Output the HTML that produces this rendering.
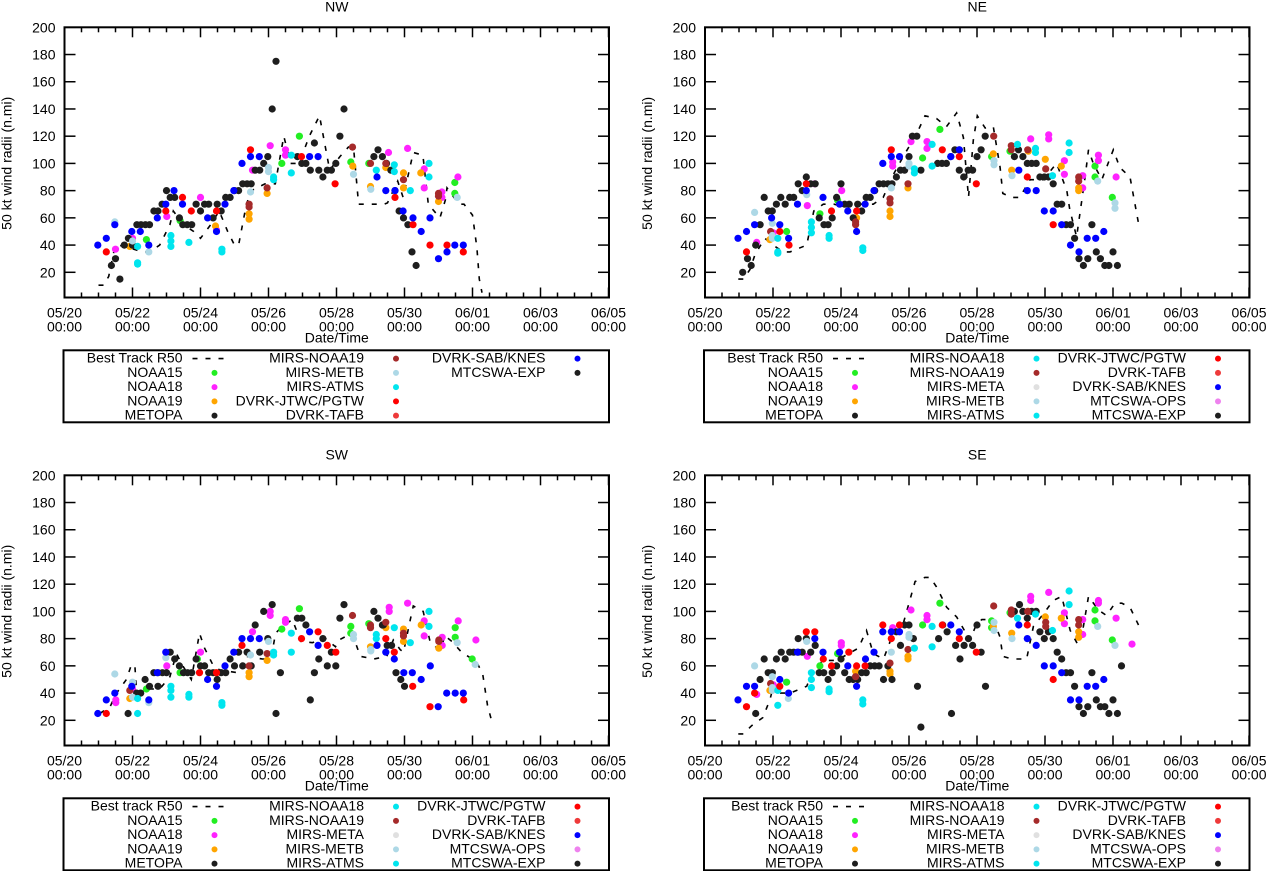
<!DOCTYPE html>
<html><head><meta charset="utf-8"><style>
html,body{margin:0;padding:0;background:#fff;}
svg{display:block;font-family:"Liberation Sans",sans-serif;}
</style></head><body>
<svg id="chart" width="1267" height="871" viewBox="0 0 1267 871" xmlns="http://www.w3.org/2000/svg"></svg>
<script>
const dateLabels = ["05/20","05/22","05/24","05/26","05/28","05/30","06/01","06/03","06/05"];
const yTicks = [20,40,60,80,100,120,140,160,180,200];

// ---------- NW ----------
const nw_best = [[1.0,10.5],[1.15,10.5],[1.3,17],[1.45,35],[1.5,40],[1.6,40],[1.9,38],[2.3,35],[2.5,35],[2.8,40],[3.1,55],[3.2,65],[3.5,55],[3.8,50],[4.0,45],[4.3,55],[4.55,65],[4.8,50],[5.0,40],[5.12,40],[5.35,70],[5.5,80],[5.9,85],[6.2,85],[6.45,120],[6.65,100],[6.9,100],[7.2,120],[7.5,135],[7.8,95],[8.1,105],[8.35,112],[8.5,112],[8.65,70],[9.1,70],[9.4,70],[9.5,71],[9.8,87],[9.96,75],[10.16,97],[10.26,108],[10.54,106],[10.7,70],[11.04,60],[11.2,73],[11.25,82],[11.6,70],[11.75,70],[12.0,62],[12.13,38],[12.2,15],[12.28,5]];
const nw_noaa15 = [[2.41,44],[3.4,58],[6.39,100],[6.91,120],[8.42,101],[8.95,100],[11.48,86],[11.48,78]];
const nw_noaa18 = [[1.5,37],[2,45],[3.01,61],[4.0,75],[4.47,51],[5.53,95],[6.05,113],[6.5,110],[6.5,106],[9.53,108],[10.09,111],[10.58,96],[10.58,82],[11.1,79],[11.1,75],[11.57,90]];
const nw_noaa19 = [[1.92,39],[4.44,54],[5.43,63],[5.43,59],[5.96,78],[8.48,98],[9,83],[9.45,97],[9.97,93],[9.97,82],[10.48,93],[11.0,72]];
const nw_mirsNoaa19 = [[5.43,70],[5.43,68],[5.96,82],[8.47,112],[9,100],[9.45,100],[9.97,88],[11,78],[11,76]];
const nw_mirsMetb = [[1.48,57],[2,43],[2.48,35],[5.47,79],[6,97],[6,94],[8.5,92],[9.01,81],[11.55,75]];
const nw_mirsAtms = [[2.15,39],[2.15,27],[2.15,26],[3.13,47],[3.13,43],[3.13,39],[3.66,42],[4.63,37],[4.63,35],[6.15,90],[6.15,88],[6.67,93],[6.67,106],[9.17,95],[9.7,99],[9.7,94],[10.17,80],[10.72,100],[10.72,90]];
const nw_black = [[1.38,25],[1.5,30],[1.63,15],[1.76,40],[1.88,45],[2,40],[2.13,55],[2.25,55],[2.38,55],[2.5,55],[2.63,65],[2.75,65],[2.87,70],[3.0,80],[3.11,75],[3.24,75],[3.38,60],[3.48,55],[3.61,55],[3.74,55],[3.87,70],[4.0,65],[4.12,70],[4.24,70],[4.37,60],[4.49,70],[4.61,65],[4.74,75],[4.87,75],[5.0,80],[5.12,80],[5.24,85],[5.37,85],[5.49,85],[5.61,95],[5.74,95],[5.86,100],[5.98,105],[6.11,140],[6.22,175],[6.85,105],[6.98,100],[7.1,100],[7.23,95],[7.35,115],[7.48,95],[7.6,90],[7.73,95],[7.85,95],[7.98,100],[8.1,120],[8.22,140],[9.1,105],[9.22,110],[9.35,105],[9.47,100],[9.6,95],[9.72,80],[9.84,65],[9.97,60],[10.1,55],[10.22,35],[10.34,25]];
const nw_jtwc = [[1.23,35],[2.98,65],[3.47,75],[3.73,65],[4.47,65],[5.47,110],[6.97,105],[7.96,85],[9.72,75],[10.25,55],[10.75,40],[11.25,40],[11.73,35]];
const nw_sab = [[0.98,40],[1.23,45],[1.48,55],[1.98,50],[2.23,50],[2.48,40],[2.73,60],[2.98,70],[3.22,80],[3.47,70],[4.21,60],[4.47,50],[4.72,70],[4.98,80],[5.22,100],[5.47,105],[5.73,105],[7.21,105],[7.46,105],[9.19,90],[9.45,80],[9.72,80],[9.96,65],[10.25,60],[10.49,50],[10.75,60],[11,30],[11.25,35],[11.48,40],[11.73,40]];

// ---------- NE ----------
const ne_best = [[0.98,15],[1.13,15],[1.32,22],[1.47,33],[1.76,45],[2.06,39],[2.3,35],[2.5,35],[2.99,40],[3.2,65],[3.48,70],[3.8,70],[4.1,68],[4.5,70],[4.95,70],[5.24,75],[5.5,90],[5.83,105],[6.23,122],[6.47,135],[6.81,133],[7.1,127],[7.4,137],[7.6,119],[7.75,75],[7.89,117],[8.01,135],[8.24,126],[8.48,127],[8.68,97],[8.76,78],[9.02,75],[9.26,75],[9.56,88],[9.95,88],[10.34,100],[10.64,80],[10.73,66],[10.93,46],[11.18,90],[11.28,110],[11.42,100],[11.67,88],[12.01,110],[12.2,97],[12.5,90],[12.75,56]];
const ne_noaa15 = [[2.4,50],[3.38,63],[3.9,73],[6.4,104],[6.91,125],[8.43,105],[8.97,109],[11.47,98],[11.47,90],[11.98,75]];
const ne_noaa18 = [[1.52,42],[2.01,49],[3.01,69],[3.23,85],[4.02,80],[5.52,101],[5.52,98],[6.06,116],[6.53,116],[6.53,111],[9.58,118],[10.11,121],[10.11,118],[10.57,102],[10.57,92],[11.11,91],[11.11,82],[11.57,106],[11.57,102],[12.09,90]];
const ne_noaa19 = [[1.91,44],[4.46,60],[5.44,65],[5.44,61],[5.97,82],[8.48,107],[9.02,95],[9.51,109],[10.01,103],[10.48,98],[10.99,82],[10.99,80]];
const ne_mirsNoaa19 = [[1.93,50],[4.43,57],[4.43,55],[5.44,74],[5.44,71],[5.97,85],[8.49,120],[9.01,113],[9.01,110],[9.49,110],[10.02,96],[10.99,90],[10.99,87]];
const ne_mirsMetb = [[1.46,64],[1.98,56],[1.98,47],[1.98,45],[2.99,77],[5.48,82],[6,100],[6,98],[8.5,102],[8.5,99],[9.03,91],[11.55,87],[12.06,71],[12.06,67]];
const ne_mirsAtms = [[2.14,45],[2.14,35],[2.14,34],[3.13,57],[3.13,53],[3.13,49],[3.65,47],[3.65,45],[4.64,38],[4.64,36],[6.16,96],[6.16,93],[6.68,114],[6.68,98],[9.19,114],[9.72,111],[9.72,108],[10.71,115],[10.71,108],[10.22,91]];
const ne_black = [[1.11,20],[1.25,30],[1.36,25],[1.49,40],[1.62,55],[1.74,75],[1.86,65],[1.98,65],[2.1,70],[2.23,75],[2.36,70],[2.49,75],[2.61,75],[2.74,85],[2.86,80],[2.98,90],[3.11,85],[3.24,85],[3.36,60],[3.5,55],[3.62,55],[3.74,60],[3.87,75],[4.0,85],[4.11,70],[4.24,70],[4.36,60],[4.49,70],[4.61,65],[4.74,75],[4.86,75],[4.99,80],[5.12,85],[5.25,85],[5.38,85],[5.5,85],[5.63,90],[5.75,95],[5.87,95],[6.0,105],[6.1,120],[6.23,120],[6.35,95],[6.84,100],[6.97,100],[7.1,100],[7.23,105],[7.35,110],[7.48,110],[7.48,95],[7.61,90],[7.74,95],[7.87,95],[8.0,105],[8.12,110],[8.24,120],[9.1,105],[9.22,110],[9.35,105],[9.48,100],[9.61,100],[9.74,100],[9.85,90],[9.98,90],[10.1,90],[10.24,85],[10.36,70],[10.49,70],[10.62,55],[10.75,55],[10.87,45],[11.0,30],[11.13,25],[11.26,30],[11.38,55],[11.51,35],[11.63,30],[11.76,25],[11.88,25],[12.0,35],[12.13,25]];
const ne_jtwc = [[1.22,35],[2.2,50],[2.47,40],[2.98,85],[3.72,65],[4.46,65],[5.48,110],[6.98,110],[7.48,105],[7.98,85],[9.48,90],[10.24,55]];
const ne_sab = [[0.97,45],[1.22,50],[1.46,55],[1.96,60],[2.2,55],[2.46,45],[2.72,70],[2.98,80],[3.47,75],[3.96,70],[4.2,65],[4.46,50],[4.71,70],[4.97,80],[5.23,100],[5.48,105],[5.72,105],[7.23,105],[7.48,110],[9.23,95],[9.48,80],[9.74,80],[9.98,65],[10.24,65],[10.49,55],[10.75,40],[11,35],[11.24,45],[11.49,45],[11.73,50]];

// ---------- SW ----------
const sw_best = [[1.04,25],[1.34,30],[1.53,40],[1.82,50],[1.97,61],[2.07,60],[2.12,40],[2.41,43],[2.8,43],[3.1,52],[3.29,69],[3.48,60],[3.73,50],[3.97,84],[4.12,73],[4.36,61],[4.56,57],[5.09,55],[5.34,67],[5.82,65],[6.07,65],[6.21,84],[6.41,89],[6.7,94],[6.95,78],[7.29,77],[7.68,80],[7.97,74],[8.07,79],[8.46,84],[8.7,67],[9.1,65],[9.48,67],[9.67,79],[9.87,72],[9.97,70],[10.17,94],[10.26,104],[10.55,100],[10.75,78],[11.04,71],[11.19,82],[11.39,78],[11.68,70],[12.12,63],[12.3,54],[12.44,31],[12.56,20],[12.63,20]];
const sw_noaa15 = [[2.41,43],[3.4,55],[3.91,65],[6.39,87],[6.91,102],[8.42,89],[8.42,84],[8.95,91],[11.49,88],[11.49,81],[11.99,65]];
const sw_noaa18 = [[1.51,35],[1.51,33],[2,43],[3.01,60],[4.0,70],[5.53,85],[6.05,100],[6.05,97],[6.5,94],[6.5,92],[9.55,103],[9.55,100],[10.09,106],[10.58,93],[10.58,82],[11.11,81],[11.11,75],[11.58,93],[12.1,79]];
const sw_noaa19 = [[1.92,36],[4.44,55],[5.43,55],[5.43,52],[5.96,64],[9,74],[9.45,88],[9.97,87],[9.97,78],[10.49,90],[11.01,73]];
const sw_mirsNoaa19 = [[1.92,42],[5.43,60],[5.96,69],[8.47,97],[9,90],[9,88],[9.45,92],[9.97,84],[9.97,82],[11.01,79],[11.01,78]];
const sw_mirsMetb = [[1.48,54],[2,48],[2,37],[2.48,33],[2.98,66],[5.47,68],[6,78],[8.5,83],[8.5,80],[9.01,72],[9.01,71],[11.55,77],[12.08,61]];
const sw_mirsAtms = [[2.15,36],[2.15,25],[3.13,45],[3.13,42],[3.13,37],[3.66,39],[3.66,37],[4.63,33],[4.63,31],[6.15,70],[6.15,68],[6.67,84],[6.67,70],[9.17,83],[9.17,80],[9.7,88],[10.17,77],[10.72,100],[10.72,89]];
const sw_black = [[1.87,25],[2.12,40],[2.24,40],[2.37,50],[2.5,45],[2.63,55],[2.75,55],[2.75,45],[2.88,55],[3.0,55],[3.11,70],[3.24,65],[3.38,60],[3.5,55],[3.62,55],[3.74,55],[3.87,65],[4.0,60],[4.12,60],[4.24,55],[4.37,55],[4.49,50],[4.61,55],[4.74,55],[4.87,65],[5.0,60],[5.12,70],[5.24,60],[5.37,70],[5.49,60],[5.61,90],[5.74,70],[5.86,100],[5.98,80],[6.11,105],[6.22,25],[6.35,55],[6.85,95],[6.98,95],[7.1,90],[7.23,35],[7.35,55],[7.48,65],[7.6,80],[7.73,60],[7.85,70],[7.98,60],[8.1,95],[8.22,105],[9.1,100],[9.22,95],[9.35,90],[9.38,90],[9.49,75],[9.62,75],[9.75,55],[9.89,50],[10.0,45]];
const sw_jtwc = [[1.23,25],[3.97,55],[4.47,55],[5.22,75],[6.97,80],[7.46,85],[7.73,75],[7.98,70],[9.45,80],[9.7,70],[10.24,45],[10.75,30],[11.74,35]];
const sw_sab = [[0.98,25],[1.23,35],[1.48,40],[1.98,45],[2.48,35],[2.73,55],[2.98,70],[4.21,50],[4.47,45],[4.72,60],[4.98,70],[5.22,80],[5.47,80],[5.73,80],[7.21,85],[7.46,75],[9.19,75],[9.45,70],[9.7,65],[9.98,55],[10.23,55],[10.49,50],[10.76,60],[10.99,30],[11.24,40],[11.49,40],[11.73,40]];

// ---------- SE ----------
const se_best = [[0.98,10],[1.13,10],[1.37,16],[1.7,22],[1.91,35],[1.96,40],[2.5,40],[2.99,45],[3.19,57],[3.48,64],[3.87,64],[4.51,73],[4.75,86],[4.95,69],[5.25,65],[5.49,81],[5.83,91],[6.18,122],[6.47,125],[6.62,125],[6.81,118],[7.11,103],[7.4,96],[7.79,79],[7.99,91],[8.14,94],[8.48,94],[8.68,81],[8.76,67],[9.02,65],[9.46,65],[9.66,89],[9.95,98],[10.24,108],[10.49,111],[10.74,86],[10.98,75],[11.13,89],[11.28,111],[11.57,101],[11.81,97],[12.06,106],[12.26,106],[12.5,103],[12.75,90]];
const se_noaa15 = [[2.4,48],[3.38,60],[3.9,69],[6.4,90],[6.91,106],[8.43,93],[8.43,88],[8.97,99],[11.47,101],[11.47,93],[11.98,79]];
const se_noaa18 = [[1.52,39],[2.01,46],[3.01,67],[4.01,77],[4.01,75],[5.52,88],[6.06,101],[6.53,97],[6.53,94],[9.58,111],[9.58,108],[10.11,114],[10.57,99],[10.57,91],[11.11,94],[11.11,83],[11.57,108],[11.57,106],[12.09,95],[12.56,76]];
const se_noaa19 = [[1.91,42],[4.43,56],[5.44,56],[5.44,54],[5.97,67],[5.97,65],[8.48,89],[9.02,84],[9.51,100],[10.01,96],[10.48,95],[10.99,85],[10.99,81]];
const se_mirsNoaa19 = [[1.93,47],[4.43,52],[5.44,62],[5.97,72],[8.49,104],[9.01,101],[9.01,98],[9.49,100],[10.02,92],[10.02,89],[10.99,94],[10.99,90]];
const se_mirsMetb = [[1.46,60],[1.98,52],[1.98,44],[1.98,42],[2.45,36],[2.99,78],[5.48,70],[6,83],[6,81],[8.5,92],[8.5,86],[9.03,80],[11.55,89],[12.06,75]];
const se_mirsAtms = [[2.14,42],[2.14,31],[3.13,55],[3.13,50],[3.13,44],[3.65,43],[3.65,41],[4.64,35],[4.64,32],[6.16,73],[6.68,89],[6.68,74],[9.19,95],[9.72,98],[10.71,115],[10.71,105],[10.22,86]];
const se_black = [[1.49,25],[1.62,50],[1.74,65],[1.86,55],[1.98,55],[2.1,65],[2.24,70],[2.36,65],[2.49,70],[2.61,70],[2.74,70],[2.86,70],[2.74,80],[2.98,80],[3.11,70],[3.24,75],[3.36,55],[3.49,55],[3.62,50],[3.74,55],[3.87,60],[4.0,65],[4.11,55],[4.24,50],[4.36,50],[4.49,50],[4.61,55],[4.74,55],[4.86,60],[4.99,60],[5.12,60],[5.25,50],[5.38,60],[5.5,50],[5.63,85],[5.75,75],[5.87,90],[6.0,90],[6.13,80],[6.25,45],[6.35,15],[6.87,80],[6.99,90],[7.12,85],[7.25,25],[7.37,75],[7.5,65],[7.62,75],[7.75,80],[7.87,75],[8.0,90],[8.12,70],[8.25,45],[9.1,100],[9.25,105],[9.35,100],[9.48,95],[9.61,100],[9.74,100],[9.85,85],[9.98,80],[10.1,85],[10.24,80],[10.36,70],[10.49,65],[10.62,55],[10.75,55],[10.87,45],[11.0,30],[11.13,25],[11.26,30],[11.38,55],[11.51,35],[11.63,30],[11.76,30],[11.88,25],[12.0,35],[12.13,25],[12.25,60]];
const se_jtwc = [[1.22,30],[1.46,40],[2.2,45],[2.98,85],[3.23,85],[3.48,65],[3.72,60],[4.23,70],[4.46,60],[4.71,60],[5.23,90],[5.48,80],[5.72,90],[6.98,90],[7.48,80],[7.98,70],[9.48,90],[10.24,50]];
const se_sab = [[0.97,35],[1.22,45],[1.46,45],[2.2,50],[2.46,40],[2.72,70],[3.23,80],[3.47,70],[3.96,70],[4.2,60],[4.46,45],[4.72,65],[4.97,70],[5.23,85],[5.48,85],[5.72,85],[7.23,90],[7.48,85],[9.23,90],[9.48,80],[9.74,75],[9.98,60],[10.24,60],[10.49,55],[10.75,35],[11,35],[11.24,45],[11.49,45],[11.73,50]];

const C = {green:"#22ee22",magenta:"#ff22ff",orange:"#ffa500",black:"#1e1e1e",brown:"#a52a2a",lightblue:"#add8e6",cyan:"#00e5ee",red:"#ff0000",tafb:"#ee3a3a",blue:"#0000ff",meta:"#e0e0e0",ops:"#ee82ee"};

const legendNW = [["Best Track R50","dash"],["NOAA15",C.green],["NOAA18",C.magenta],["NOAA19",C.orange],["METOPA",C.black],["MIRS-NOAA19",C.brown],["MIRS-METB",C.lightblue],["MIRS-ATMS",C.cyan],["DVRK-JTWC/PGTW",C.red],["DVRK-TAFB",C.tafb],["DVRK-SAB/KNES",C.blue],["MTCSWA-EXP",C.black]];
function legendFull(bt){return [[bt,"dash"],["NOAA15",C.green],["NOAA18",C.magenta],["NOAA19",C.orange],["METOPA",C.black],["MIRS-NOAA18",C.cyan],["MIRS-NOAA19",C.brown],["MIRS-META",C.meta],["MIRS-METB",C.lightblue],["MIRS-ATMS",C.cyan],["DVRK-JTWC/PGTW",C.red],["DVRK-TAFB",C.tafb],["DVRK-SAB/KNES",C.blue],["MTCSWA-OPS",C.ops],["MTCSWA-EXP",C.black]];}

const panels = [
 {key:"nw",title:"NW",L:64.5,T:27.3,best:nw_best,series:[["noaa15",nw_noaa15,C.green],["noaa18",nw_noaa18,C.magenta],["noaa19",nw_noaa19,C.orange],["metopa-exp",nw_black,C.black],["mirs-noaa19",nw_mirsNoaa19,C.brown],["mirs-metb",nw_mirsMetb,C.lightblue],["mirs-atms",nw_mirsAtms,C.cyan],["dvrk-jtwc",nw_jtwc,C.red],["dvrk-sab",nw_sab,C.blue]],legend:legendNW},
 {key:"ne",title:"NE",L:705,T:27.3,best:ne_best,series:[["noaa15",ne_noaa15,C.green],["noaa18",ne_noaa18,C.magenta],["noaa19",ne_noaa19,C.orange],["metopa-exp",ne_black,C.black],["mirs-noaa19",ne_mirsNoaa19,C.brown],["mirs-metb",ne_mirsMetb,C.lightblue],["mirs-atms",ne_mirsAtms,C.cyan],["dvrk-jtwc",ne_jtwc,C.red],["dvrk-sab",ne_sab,C.blue]],legend:legendFull("Best Track R50")},
 {key:"sw",title:"SW",L:64.5,T:475.3,best:sw_best,series:[["noaa15",sw_noaa15,C.green],["noaa18",sw_noaa18,C.magenta],["noaa19",sw_noaa19,C.orange],["metopa-exp",sw_black,C.black],["mirs-noaa19",sw_mirsNoaa19,C.brown],["mirs-metb",sw_mirsMetb,C.lightblue],["mirs-atms",sw_mirsAtms,C.cyan],["dvrk-jtwc",sw_jtwc,C.red],["dvrk-sab",sw_sab,C.blue]],legend:legendFull("Best track R50")},
 {key:"se",title:"SE",L:705,T:475.3,best:se_best,series:[["noaa15",se_noaa15,C.green],["noaa18",se_noaa18,C.magenta],["noaa19",se_noaa19,C.orange],["metopa-exp",se_black,C.black],["mirs-noaa19",se_mirsNoaa19,C.brown],["mirs-metb",se_mirsMetb,C.lightblue],["mirs-atms",se_mirsAtms,C.cyan],["dvrk-jtwc",se_jtwc,C.red],["dvrk-sab",se_sab,C.blue]],legend:legendFull("Best track R50")}
];

const NS="http://www.w3.org/2000/svg";
const svg=document.getElementById("chart");
function mk(tag,attrs,parent,text){const e=document.createElementNS(NS,tag);for(const k in attrs)e.setAttribute(k,attrs[k]);if(text!==undefined)e.textContent=text;(parent||svg).appendChild(e);return e;}

const PW=544.5, PH=270.2, DAYPX=34, VPX=1.3611, FS="14";
panels.forEach(p=>{
  const g=mk("g",{});
  
  
  const xS=d=>p.L+d*DAYPX;
  const yS=v=>p.T+(200-v)*VPX;
  const B=p.T+PH, R=p.L+PW;
  const t=mk("text",{x:p.L+PW/2,y:p.T-16,"text-anchor":"middle","font-size":FS},g,p.title);
  
  
  for(let i=0;i<=32;i++){
    const x=p.L+i*DAYPX/2; const len=(i%4===0)?10:5;
    mk("line",{x1:x,y1:B,x2:x,y2:B-len,stroke:"#000","stroke-width":1.5},g);
    mk("line",{x1:x,y1:p.T,x2:x,y2:p.T+len,stroke:"#000","stroke-width":1.5},g);
  }
  dateLabels.forEach((lab,i)=>{
    const x=xS(i*2);
    const tl=mk("text",{x:x,y:B+20,"text-anchor":"middle","font-size":FS},g,lab);
    
    
    mk("text",{x:x,y:B+34,"text-anchor":"middle","font-size":FS},g,"00:00");
  });
  yTicks.forEach(v=>{
    const y=yS(v);
    mk("line",{x1:p.L,y1:y,x2:p.L+11,y2:y,stroke:"#000","stroke-width":1.5},g);
    mk("line",{x1:R,y1:y,x2:R-11,y2:y,stroke:"#000","stroke-width":1.5},g);
    const yl=mk("text",{x:p.L-9,y:y+5,"text-anchor":"end","font-size":FS},g,String(v));
    
    
  });
  const xt=mk("text",{x:p.L+PW/2,y:B+45,"text-anchor":"middle","font-size":FS},g,"Date/Time");
  
  
  const cy=p.T+136;
  const yt=mk("text",{x:p.L-53,y:cy,"text-anchor":"middle","font-size":FS,transform:"rotate(-90 "+(p.L-53)+" "+cy+")"},g,"50 kt wind radii (n.mi)");
  
  
  const pts=p.best.map(d=>xS(d[0]).toFixed(1)+","+yS(d[1]).toFixed(1)).join(" ");
  const bl=mk("polyline",{points:pts,fill:"none",stroke:"#000","stroke-width":1.6,"stroke-dasharray":"5,8"},g);
  
  
  p.series.forEach(s=>{
    const sg=mk("g",{fill:s[2]},g);
    
    
    s[1].forEach(d=>{
      const c=mk("circle",{cx:xS(d[0]).toFixed(1),cy:yS(d[1]).toFixed(1),r:3.6},sg);
      
      
    });
  });
  mk("rect",{x:p.L,y:p.T,width:PW,height:PH,fill:"none",stroke:"#000","stroke-width":2},g);
  const LT=p.T+323, lg=mk("g",{},g);
  
  
  mk("rect",{x:p.L-1,y:LT,width:PW+1,height:72,fill:"none",stroke:"#000","stroke-width":2},lg);
  p.legend.forEach((e,i)=>{
    const col=Math.floor(i/5), row=i%5;
    const ty=LT+7.3+row*14.25;
    const tx=p.L+118+col*181.5, dx=p.L+150+col*181.5;
    const lt=mk("text",{x:tx,y:ty+5,"text-anchor":"end","font-size":FS},lg,e[0]);
    
    
    if(e[1]==="dash"){
      mk("line",{x1:dx-22,y1:ty+1,x2:dx+14,y2:ty+1,stroke:"#000","stroke-width":1.6,"stroke-dasharray":"5,8"},lg);
    } else {
      mk("circle",{cx:dx,cy:ty+1,r:3,fill:e[1]},lg);
    }
  });
});
</script>
</body></html>
